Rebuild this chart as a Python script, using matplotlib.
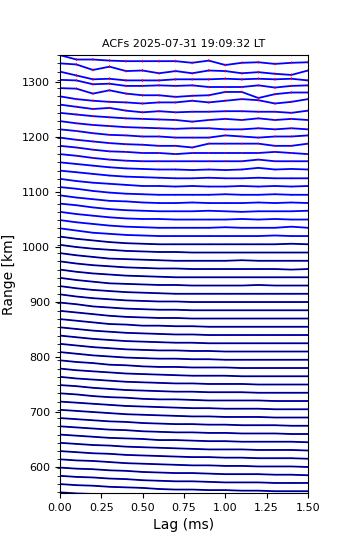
import numpy as np
import matplotlib
matplotlib.use("Agg")
import matplotlib.pyplot as plt

# lag axis (ms)
lags = [0.0, 0.1, 0.2, 0.3, 0.4, 0.5, 0.6, 0.7, 0.8, 0.9, 1.0, 1.1, 1.2, 1.3, 1.4, 1.5]

# range gates (km), top to bottom
gates = [1349, 1334, 1319, 1304, 1289, 1274, 1259, 1244, 1229, 1214,
         1199, 1184, 1169, 1154, 1139, 1124, 1109, 1094, 1079, 1064,
         1049, 1034, 1019, 1004, 989, 974, 959, 944, 929, 914,
         899, 884, 869, 854, 839, 824, 809, 794, 779, 764,
         749, 734, 719, 704, 689, 674, 659, 644, 629, 614,
         599, 584, 569, 554]

# ACF trace offsets from gate (km), one row per gate, top to bottom
acf_off = [
    [0, -8, -8, -10, -11, -11, -11, -11, -14, -10, -18, -14, -13, -16, -14, -13],
    [0, -2, -12, -6, -14, -13, -18, -14, -18, -13, -14, -18, -16, -19, -21, -13],
    [0, -7, -14, -13, -16, -16, -16, -14, -14, -14, -13, -14, -13, -14, -13, -16],
    [0, -1, -8, -7, -11, -11, -10, -11, -10, -13, -13, -13, -10, -14, -11, -10],
    [0, -1, -10, -4, -10, -13, -13, -16, -14, -13, -7, -7, -18, -11, -8, -8],
    [0, -5, -8, -10, -11, -13, -11, -11, -8, -11, -8, -5, -7, -13, -10, -5],
    [0, -4, -8, -6, -11, -14, -12, -14, -13, -13, -12, -12, -13, -13, -15, -11],
    [0, -3, -6, -8, -10, -11, -12, -13, -16, -13, -11, -13, -10, -13, -11, -13],
    [0, -4, -7, -9, -11, -12, -13, -14, -13, -13, -15, -15, -13, -15, -13, -15],
    [0, -3, -7, -10, -11, -13, -13, -15, -15, -15, -11, -13, -15, -13, -13, -11],
    [0, -4, -7, -10, -12, -13, -15, -15, -18, -11, -11, -11, -11, -15, -15, -11],
    [0, -3, -7, -10, -11, -13, -13, -15, -13, -13, -13, -13, -13, -11, -13, -15],
    [0, -3, -7, -10, -12, -13, -13, -13, -13, -13, -13, -13, -10, -13, -13, -13],
    [0, -3, -6, -9, -11, -12, -13, -13, -14, -13, -14, -13, -10, -13, -12, -13],
    [0, -3, -6, -9, -11, -12, -13, -14, -14, -13, -14, -14, -13, -14, -14, -14],
    [0, -4, -7, -9, -11, -13, -13, -14, -13, -14, -14, -13, -14, -13, -14, -13],
    [0, -3, -7, -10, -12, -13, -14, -14, -14, -14, -13, -14, -14, -13, -14, -14],
    [0, -4, -7, -10, -11, -13, -14, -14, -13, -14, -14, -14, -13, -14, -13, -14],
    [0, -3, -7, -10, -12, -13, -14, -14, -14, -13, -14, -15, -14, -14, -14, -13],
    [0, -4, -7, -10, -12, -13, -13, -14, -14, -14, -14, -13, -14, -13, -14, -14],
    [0, -4, -7, -10, -12, -13, -14, -14, -14, -14, -13, -14, -14, -14, -12, -14],
    [0, -4, -8, -10, -12, -13, -14, -14, -14, -14, -14, -14, -14, -13, -14, -14],
    [0, -4, -7, -10, -12, -13, -14, -14, -14, -14, -14, -14, -14, -14, -13, -14],
    [0, -4, -7, -9, -11, -12, -13, -13, -14, -14, -14, -14, -14, -14, -14, -14],
    [0, -4, -7, -10, -11, -12, -13, -14, -14, -14, -14, -13, -14, -14, -14, -14],
    [0, -4, -7, -9, -11, -12, -13, -13, -14, -14, -14, -14, -14, -14, -15, -14],
    [0, -4, -7, -9, -11, -12, -13, -14, -14, -14, -14, -14, -14, -14, -14, -14],
    [0, -4, -7, -10, -11, -12, -13, -13, -14, -14, -14, -14, -13, -14, -14, -14],
    [0, -4, -7, -9, -11, -12, -13, -14, -14, -14, -14, -14, -14, -14, -14, -14],
    [0, -4, -7, -9, -11, -12, -13, -13, -14, -14, -14, -14, -14, -14, -14, -14],
    [0, -3, -7, -9, -11, -12, -13, -13, -14, -14, -14, -14, -14, -14, -14, -14],
    [0, -3, -6, -9, -11, -12, -13, -13, -14, -14, -14, -14, -14, -14, -14, -14],
    [0, -3, -6, -9, -10, -12, -12, -13, -13, -14, -14, -14, -14, -14, -14, -14],
    [0, -3, -6, -8, -10, -11, -12, -13, -13, -14, -14, -14, -14, -14, -14, -14],
    [0, -3, -6, -8, -10, -11, -12, -13, -13, -14, -14, -14, -14, -14, -14, -14],
    [0, -3, -6, -8, -10, -11, -12, -12, -13, -13, -14, -14, -14, -14, -14, -14],
    [0, -3, -6, -8, -10, -11, -12, -12, -13, -13, -14, -14, -14, -14, -14, -14],
    [0, -3, -5, -8, -9, -11, -12, -12, -13, -13, -13, -14, -14, -14, -14, -14],
    [0, -3, -5, -7, -9, -10, -11, -12, -13, -13, -13, -14, -14, -14, -14, -14],
    [0, -3, -5, -7, -9, -10, -11, -12, -12, -13, -13, -13, -14, -14, -14, -14],
    [0, -2, -5, -7, -9, -10, -11, -12, -12, -13, -13, -13, -14, -14, -14, -14],
    [0, -2, -5, -7, -8, -10, -11, -11, -12, -13, -13, -13, -13, -14, -14, -14],
    [0, -2, -4, -6, -8, -9, -10, -11, -12, -12, -13, -13, -13, -14, -14, -14],
    [0, -2, -4, -6, -8, -9, -10, -11, -12, -12, -13, -13, -13, -14, -14, -14],
    [0, -2, -4, -6, -7, -9, -10, -11, -11, -12, -12, -13, -13, -13, -14, -14],
    [0, -2, -4, -6, -7, -9, -10, -11, -11, -12, -12, -13, -13, -13, -14, -14],
    [0, -2, -4, -6, -7, -8, -10, -10, -11, -12, -12, -13, -13, -13, -13, -14],
    [0, -2, -4, -5, -7, -8, -9, -10, -11, -12, -12, -12, -13, -13, -13, -14],
    [0, -2, -4, -5, -7, -8, -9, -10, -11, -11, -12, -12, -13, -13, -13, -14],
    [0, -2, -3, -5, -7, -8, -9, -10, -11, -11, -12, -12, -13, -13, -13, -14],
    [0, -2, -3, -5, -6, -8, -9, -10, -10, -11, -12, -12, -12, -13, -13, -14],
    [0, -2, -3, -5, -6, -8, -9, -10, -10, -11, -12, -12, -12, -13, -13, -13],
    [0, -2, -3, -5, -6, -7, -9, -10, -10, -11, -11, -12, -12, -13, -13, -13],
    [0, -2, -3, -5, -6, -7, -8, -9, -10, -11, -11, -12, -12, -12, -13, -13],
]

# error half-width per gate (km), top to bottom
acf_err = [2.5, 2.5, 2.5, 2.2, 2.2, 2.2, 2.0, 2.0, 1.8, 1.8,
           1.8, 1.6, 1.6, 1.4, 1.4, 1.3, 1.2, 1.2, 1.1, 1.1,
           1.0, 1.0, 1.0, 0.9, 0.9, 0.9, 0.8, 0.8, 0.8, 0.8,
           0.8, 0.7, 0.7, 0.7, 0.7, 0.7, 0.7, 0.6, 0.6, 0.6,
           0.6, 0.6, 0.6, 0.6, 0.6, 0.6, 0.6, 0.6, 0.6, 0.6,
           0.6, 0.6, 0.6, 0.6]

# gates that also got a fitted (black) curve
fit_below = 1020

title = "ACFs 2025-07-31 19:09:32 LT"

fig = plt.figure(figsize=(3.5, 5.5), dpi=100)
ax = fig.add_axes([0.171, 0.1036, 0.709, 0.7964])

x = np.array(lags)
for g, off, e in zip(gates, acf_off, acf_err):
    y = g + np.array(off, dtype=float)
    # noisy gates: error marks sit on top of the trace
    ez = 4 if e >= 1.5 else 1
    eb = ax.errorbar(x[1:], y[1:], yerr=e, fmt="none", ecolor="red",
                     elinewidth=0.7, capsize=0, zorder=ez)
    for c in eb[2]:
        c.set_snap(False)
    ax.plot(x, y, color="blue", lw=1.3, zorder=2)
    if g < fit_below:
        ax.plot(x, y, color="black", lw=0.5, zorder=3)

ax.set_xlim(0, 1.5)
ax.set_ylim(552.7, 1349.2)
ax.set_xticks([0, 0.25, 0.5, 0.75, 1.0, 1.25, 1.5])
ax.set_yticks([600, 700, 800, 900, 1000, 1100, 1200, 1300])
ax.set_yticks(gates, minor=True)
ax.tick_params(labelsize=8)
ax.tick_params(axis="y", which="minor", length=2)
ax.set_xlabel("Lag (ms)", fontsize=10)
ax.set_ylabel("Range [km]", fontsize=10)
ax.set_title(title, fontsize=8)

fig.savefig("out.png", dpi=100)
